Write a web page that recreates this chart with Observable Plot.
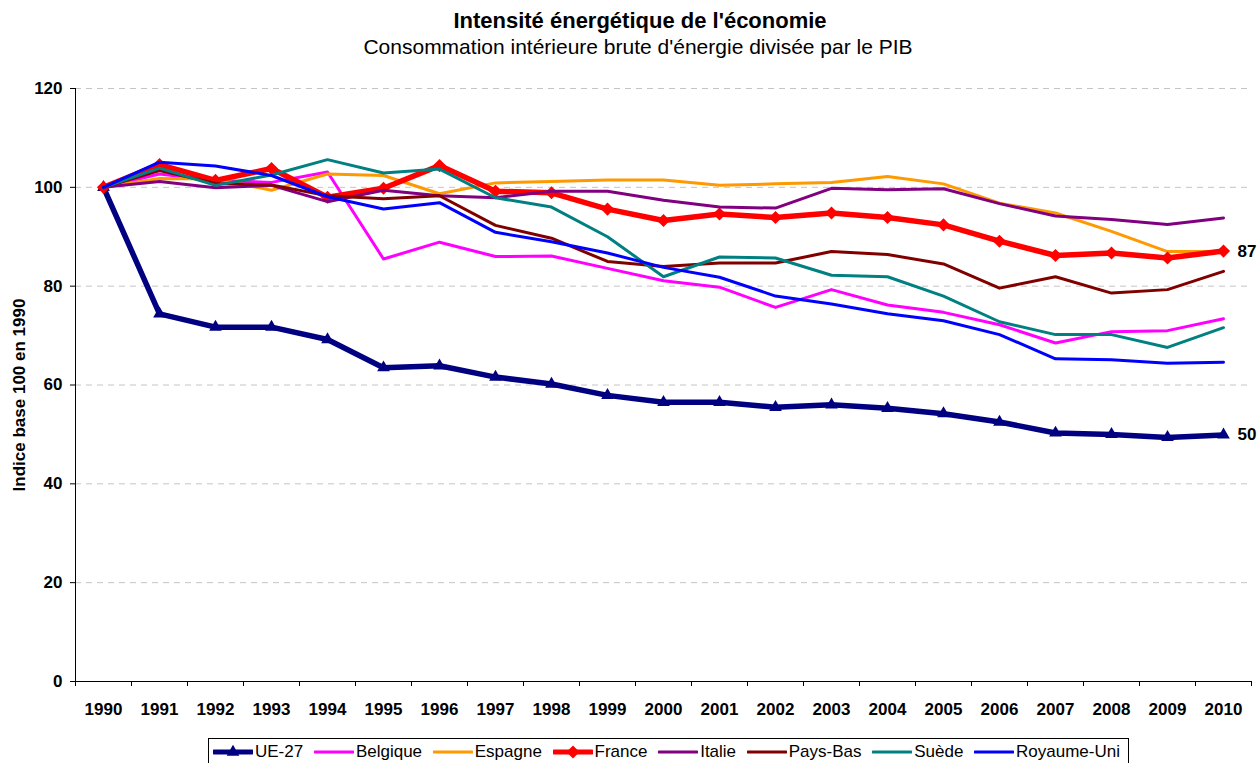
<!DOCTYPE html>
<html>
<head>
<meta charset="utf-8">
<script src="https://cdn.jsdelivr.net/npm/d3@7"></script>
<script src="https://cdn.jsdelivr.net/npm/@observablehq/plot@0.6"></script>
<style>
  html, body { margin: 0; padding: 0; background: #fff; overflow: hidden; }
  body { font-family: "Liberation Sans", Arial, sans-serif; width: 1257px; height: 763px; position: relative; }
  #head { position: relative; height: 60px; }
  #title { position: absolute; left: 0; width: 1280px; top: 8px; line-height: 26px; text-align: center; font-weight: bold; font-size: 22px; }
  #subtitle { position: absolute; left: 0; width: 1276px; top: 34px; line-height: 26px; text-align: center; font-size: 21px; }
  #chart svg { display: block; overflow: visible; }
  #legend { position: absolute; left: 208px; top: 738px; width: 921px; height: 28px; border: 1px solid #000; display: flex; align-items: center; justify-content: space-between; padding: 0 8px 0 4px; box-sizing: border-box; font-size: 17px; }
  .item { display: flex; align-items: center; }
  .item svg { margin-right: 2px; }
</style>
</head>
<body>
<div id="head">
  <div id="title">Intensité énergétique de l'économie</div>
  <div id="subtitle">Consommation intérieure brute d'énergie divisée par le PIB</div>
</div>
<div id="chart"></div>
<div id="legend"></div>
<script>
const years = [1990,1991,1992,1993,1994,1995,1996,1997,1998,1999,2000,2001,2002,2003,2004,2005,2006,2007,2008,2009,2010];
const yTicks = [0,20,40,60,80,100,120];
const seriesNames = ["UE-27","Belgique","Espagne","France","Italie","Pays-Bas","Suède","Royaume-Uni"];

const ue27     = [100,74.4,71.7,71.7,69.2,63.5,63.9,61.6,60.2,57.9,56.5,56.5,55.5,56.0,55.3,54.2,52.5,50.3,50.0,49.4,49.9];
const belgique = [100,102.7,101.4,101.0,103.1,85.5,88.9,86.0,86.1,83.6,81.1,79.8,75.7,79.3,76.2,74.7,72.2,68.5,70.8,71.0,73.4];
const espagne  = [100,101.8,101.7,99.4,102.7,102.4,98.7,100.9,101.2,101.5,101.5,100.4,100.7,101.0,102.2,100.7,96.8,94.8,91.1,87.0,87.0];
const france   = [100,104.6,101.4,103.8,98.0,99.8,104.4,99.2,98.9,95.6,93.3,94.6,93.9,94.8,93.9,92.4,89.1,86.2,86.7,85.7,87.1];
const italie   = [100,101.2,99.9,100.4,97.1,99.4,98.3,97.9,99.2,99.2,97.4,96.0,95.8,99.8,99.5,99.7,96.7,94.2,93.5,92.5,93.8];
const paysBas  = [100,103.4,100.8,100.5,98.3,97.7,98.3,92.3,89.7,85.0,84.0,84.7,84.7,87.0,86.4,84.5,79.6,81.9,78.6,79.3,83.0];
const suede    = [100,103.9,100.4,102.5,105.6,102.9,103.7,97.9,96.0,90.0,81.9,85.9,85.7,82.2,81.9,78.0,72.8,70.2,70.2,67.6,71.6];
const royUni   = [100,105.1,104.3,102.4,98.1,95.6,96.9,90.9,89.0,86.7,83.8,81.8,78.0,76.4,74.4,73.0,70.2,65.3,65.1,64.4,64.6];

const valuesList = [ue27, belgique, espagne, france, italie, paysBas, suede, royUni];
const colors = ["#000080","#FF00FF","#FF9900","#FF0000","#800080","#800000","#008080","#0000FF"];
const widths = [5.5,3,3,5.5,3,3,3,3];
const symbols = ["triangle",null,null,"diamond2",null,null,null,null];
const symbolR = {triangle: 4.7, diamond2: 5.9};
const labelled = ["UE-27","France"];

const tables = seriesNames.map((name, i) => years.map((year, j) => ({series: name, year, value: valuesList[i][j]})));
const bounds = [...years.map(y => y - 0.5), years[years.length - 1] + 0.5];

const marks = [
  Plot.gridY({ticks: yTicks.filter(d => d > 0), stroke: "#c4c4c4", strokeOpacity: 1, strokeDasharray: "6,5"}),
  Plot.axisY({ticks: yTicks, tickSize: 5, tickPadding: 8, label: null, stroke: "#000"}),
  Plot.axisX({ticks: bounds, tickSize: 5, tickFormat: () => "", label: null, stroke: "#000"}),
  Plot.axisX({ticks: years, tickSize: 0, tickPadding: 21, tickFormat: d => String(d), label: null}),
  Plot.ruleX([bounds[0]], {stroke: "#000", strokeWidth: 1}),
  Plot.ruleY([0], {stroke: "#000", strokeWidth: 1}),
  Plot.text(["Indice base 100 en 1990"], {frameAnchor: "left", textAnchor: "middle", rotate: -90, dx: -56, dy: 10, fontSize: 17, fontWeight: "bold"})
];

tables.forEach((t, i) => {
  marks.push(Plot.line(t, {x: "year", y: "value", stroke: colors[i], strokeWidth: widths[i], strokeLinejoin: "round", strokeLinecap: "round"}));
  if (symbols[i]) {
    marks.push(Plot.dot(t, {x: "year", y: "value", symbol: symbols[i], r: symbolR[symbols[i]], fill: colors[i], stroke: "none"}));
  }
});

const lastPoints = tables.filter(t => labelled.includes(t[0].series)).map(t => t[t.length - 1]);
marks.push(Plot.text(lastPoints, {x: "year", y: "value", text: d => d3.format(".0f")(d.value), dx: 14, textAnchor: "start", fontSize: 17, fontWeight: "bold"}));

const chart = Plot.plot({
  width: 1257,
  height: 670,
  marginLeft: 75,
  marginRight: 6,
  marginTop: 28,
  marginBottom: 49,
  x: {type: "linear", domain: [bounds[0], bounds[bounds.length - 1]]},
  y: {domain: [0, 120]},
  style: {fontFamily: "'Liberation Sans', Arial, sans-serif", fontSize: "17px", fontWeight: "bold", color: "#000", background: "transparent", overflow: "visible"},
  marks
});
document.getElementById("chart").appendChild(chart);

// legend
const legend = document.getElementById("legend");
seriesNames.forEach((name, i) => {
  const item = document.createElement("div");
  item.className = "item";
  const ns = "http://www.w3.org/2000/svg";
  const sw = document.createElementNS(ns, "svg");
  sw.setAttribute("width", 40); sw.setAttribute("height", 16);
  const ln = document.createElementNS(ns, "line");
  ln.setAttribute("x1", 1); ln.setAttribute("x2", 39); ln.setAttribute("y1", 8); ln.setAttribute("y2", 8);
  ln.setAttribute("stroke", colors[i]); ln.setAttribute("stroke-width", widths[i] > 4 ? 5 : 3);
  ln.setAttribute("stroke-linecap", "round");
  sw.appendChild(ln);
  if (symbols[i]) {
    const p = document.createElementNS(ns, "path");
    const sym = symbols[i] === "triangle" ? d3.symbolTriangle : d3.symbolDiamond2;
    const rr = symbolR[symbols[i]];
    p.setAttribute("d", d3.symbol(sym, rr * rr * Math.PI)());
    p.setAttribute("transform", "translate(20,8)");
    p.setAttribute("fill", colors[i]);
    sw.appendChild(p);
  }
  item.appendChild(sw);
  const tx = document.createElement("span");
  tx.textContent = name;
  item.appendChild(tx);
  legend.appendChild(item);
});
</script>
</body>
</html>
